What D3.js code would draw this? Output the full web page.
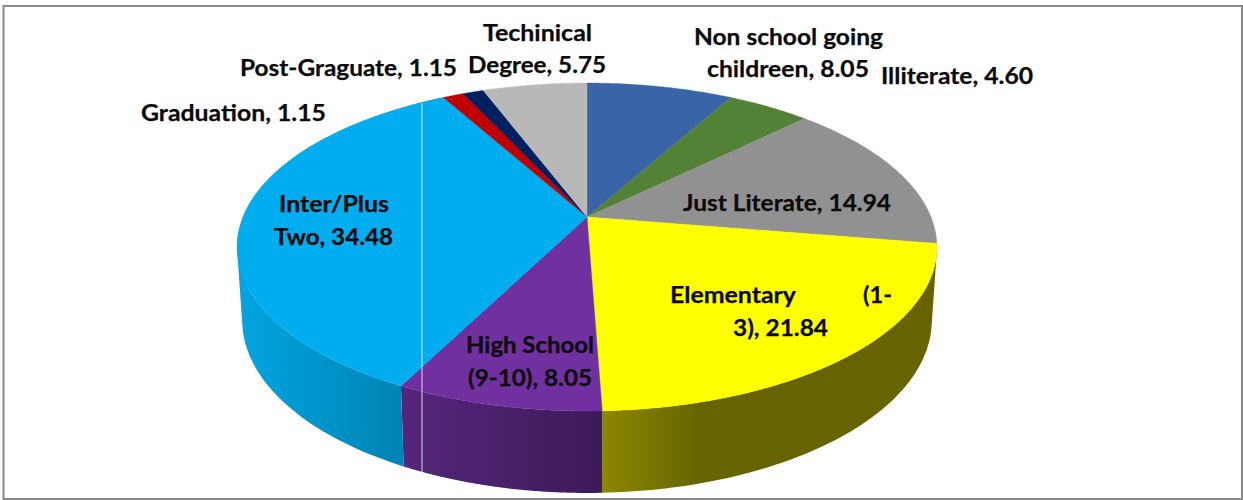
<!DOCTYPE html>
<html>
<head>
<meta charset="utf-8">
<script src="https://cdnjs.cloudflare.com/ajax/libs/d3/7.8.5/d3.min.js"></script>
<style>
  html, body { margin: 0; padding: 0; background: #fff; }
  svg { display: block; }
  text { font-family: Lato, "Open Sans", sans-serif; font-weight: 700; font-size: 23px; fill: #0a0a0a; stroke: #0a0a0a; stroke-width: 0.25px; }
</style>
</head>
<body>
<div id="chart"></div>
<script>
// Data
const categories = ["Non school going childreen", "Illiterate", "Just Literate", "Elementary (1-3)",
                    "High School (9-10)", "Inter/Plus Two", "Graduation", "Post-Graguate", "Techinical Degree"];
const values = [8.05, 4.60, 14.94, 21.84, 8.05, 34.48, 1.15, 1.15, 5.75];
const colors = ["#3A64A8", "#538135", "#919191", "#FFFF00", "#7030A0", "#00AEEF", "#C00000", "#002060", "#B8B8B8"];

// Label text, one entry per line: [text, left x, baseline, line width]
const labelLines = [
    ["Non school going", 694, 45, 189],
    ["childreen, 8.05", 707, 77, 162],
    ["Illiterate, 4.60", 881, 84, 152],
    ["Just Literate, 14.94", 683, 211, 208],
    ["Elementary", 670, 303, 126],
    ["(1-", 863, 303, 29],
    ["3), 21.84", 733, 336, 95],
    ["High School", 466, 353, 128],
    ["(9-10), 8.05", 468, 386, 124],
    ["Inter/Plus", 279, 212, 110],
    ["Two, 34.48", 274, 245, 119],
    ["Graduation, 1.15", 141, 121, 185],
    ["Post-Graguate, 1.15", 240, 76, 217],
    ["Techinical", 483, 41, 109],
    ["Degree, 5.75", 468, 73, 138]
];

const width = 1243, height = 500;

const svg = d3.select("#chart").append("svg")
    .attr("width", width)
    .attr("height", height);

// Perspective discs: top face and base of the pie
const topDisc  = { x0: 587, y0: 217, a: 344, b: 158.5, k: 0.183 };
const baseDisc = { x0: 587, y0: 288.3, a: 339, b: 167.2, k: 0.183 };

function project(disc, angle) {
    const X = Math.sin(angle), Y = Math.cos(angle), w = 1 + disc.k * Y;
    return [disc.x0 + disc.a * X / w, disc.y0 - disc.b * Y / w];
}

function rim(disc, start, end) {
    return d3.range(0, 81).map(i => project(disc, start + (end - start) * i / 80));
}

const arcs = d3.pie().sort(null)(values);
const line = d3.line();

// Side wall shading, left to right
const sideGradients = {
    3: { x1: 602, x2: 938, stops: [[0, "#8C8800"], [0.3, "#666300"], [1, "#666300"]] },
    4: { x1: 401, x2: 602, stops: [[0, "#55267C"], [1, "#3D1A58"]] },
    5: { x1: 238, x2: 401, stops: [[0, "#00A5E1"], [1, "#0084B4"]] }
};

const defs = svg.append("defs");
Object.entries(sideGradients).forEach(([i, g]) => {
    const grad = defs.append("linearGradient")
        .attr("id", `side${i}`)
        .attr("gradientUnits", "userSpaceOnUse")
        .attr("x1", g.x1).attr("x2", g.x2)
        .attr("y1", 0).attr("y2", 0);
    g.stops.forEach(s => grad.append("stop").attr("offset", s[0]).attr("stop-color", s[1]));
});

// Side wall of a slice: one quad per rim step in a single path, all wound the same way
function wallPath(d) {
    const upper = rim(topDisc, d.startAngle, d.endAngle);
    const lower = rim(baseDisc, d.startAngle, d.endAngle);
    return d3.range(upper.length - 1).map(i => {
        const quad = [upper[i], upper[i + 1], lower[i + 1], lower[i]];
        if (d3.polygonArea(quad) < 0) quad.reverse();
        return line(quad) + "Z";
    }).join("");
}

svg.append("g").selectAll("path")
    .data(arcs.filter(d => sideGradients[d.index]))
    .join("path")
    .attr("fill", d => `url(#side${d.index})`)
    .attr("d", wallPath);

// Top face
svg.append("g").selectAll("path")
    .data(arcs)
    .join("path")
    .attr("fill", (d, i) => colors[i])
    .attr("stroke", (d, i) => colors[i])
    .attr("stroke-width", 0.4)
    .attr("d", d => line([[topDisc.x0, topDisc.y0]].concat(rim(topDisc, d.startAngle, d.endAngle))) + "Z");

// Thin white line running through the picture
svg.append("line")
    .attr("x1", 422).attr("x2", 422)
    .attr("y1", 103).attr("y2", 472)
    .attr("stroke", "#fff")
    .attr("stroke-opacity", 0.8)
    .attr("stroke-width", 1);

// Labels
svg.append("g").selectAll("text")
    .data(labelLines)
    .join("text")
    .attr("x", d => d[1])
    .attr("y", d => d[2])
    .attr("textLength", d => d[3])
    .attr("lengthAdjust", "spacingAndGlyphs")
    .text(d => d[0]);

// Frame
svg.append("rect")
    .attr("x", 3.5).attr("y", 6)
    .attr("width", 1238.5).attr("height", 493)
    .attr("fill", "none")
    .attr("stroke", "#8a8a8a")
    .attr("stroke-width", 2);
</script>
</body>
</html>
